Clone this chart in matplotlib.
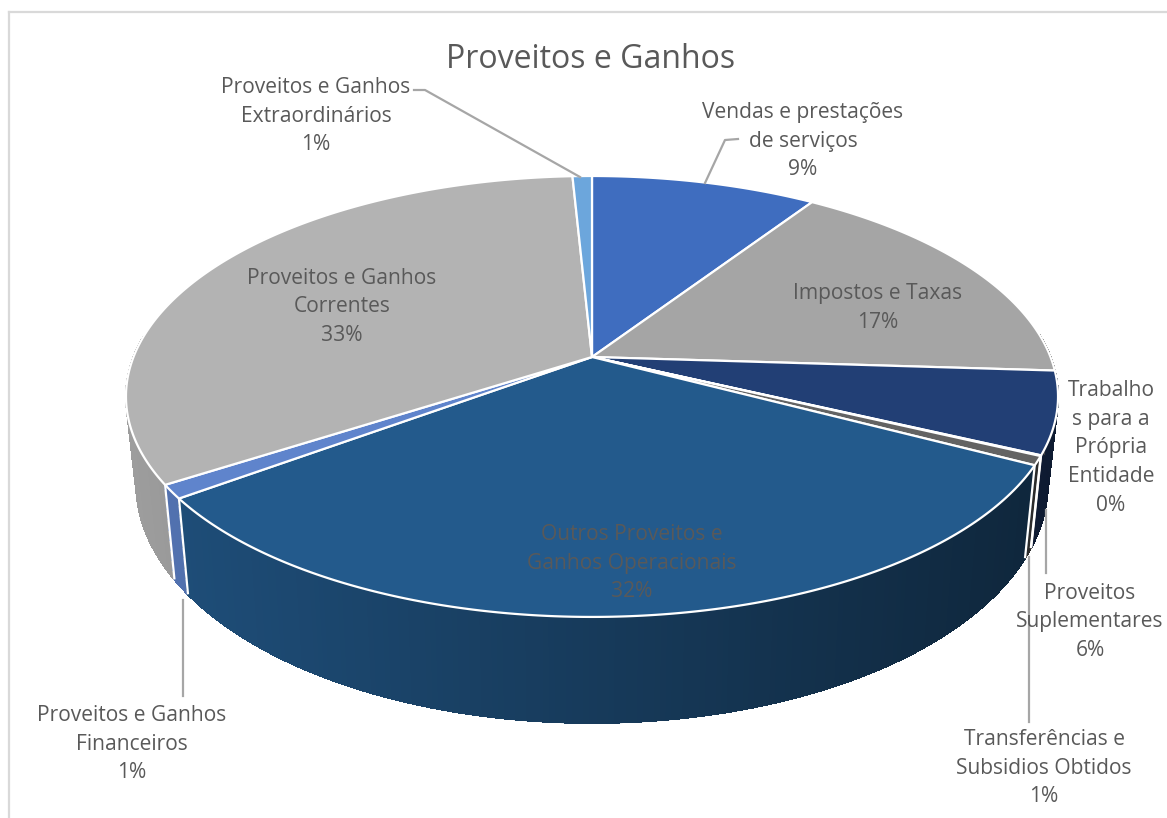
import numpy as np
import matplotlib
matplotlib.use('Agg')
import matplotlib.pyplot as plt

plt.rcParams['font.family'] = ['Open Sans', 'DejaVu Sans']

# ============ DATA ============
labels = ['Vendas e prestações\nde serviços', 'Impostos e Taxas', 'Proveitos\nSuplementares',
          'Trabalho\ns para a\nPrópria\nEntidade', 'Transferências e\nSubsidios Obtidos',
          'Outros Proveitos e\nGanhos Operacionais', 'Proveitos e Ganhos\nFinanceiros',
          'Proveitos e Ganhos\nCorrentes', 'Proveitos e Ganhos\nExtraordinários']
values = [9.3, 16.7, 6.0, 0.05, 0.65, 32.2, 1.0, 33.3, 0.8]
colors = ['#3f6dbf', '#a5a5a5', '#223f75', '#636363', '#636363',
          '#235a8c', '#5f84cc', '#b3b3b3', '#6ca6dc']
label_pos = [(803, 141), (878, 308), (1090, 622), (1111, 448), (1044, 768),
             (632, 563), (132, 744), (342, 307), (316, 116)]

# ============ GEOMETRY (pixels of the reference) ============
CX, CY = 592, 357
A, B, P = 458.5, 213.4, 0.179
X_SCALE, Y_SCALE, DROP = 0.978, 1.086, 83.6


def top_pt(theta):
    x, y = np.sin(theta), np.cos(theta)
    d = 1 + P * y
    return A * x / d, -B * y / d


def rim(theta):
    dx, dy = top_pt(theta)
    return CX + dx, CY + dy


def floor(theta):
    dx, dy = top_pt(theta)
    return CX + X_SCALE * dx, CY + DROP + Y_SCALE * dy


def shade(color, x):
    f = 0.88 - 0.46 * (x - 125) / 933
    return tuple(c * f for c in matplotlib.colors.to_rgb(color))


fig = plt.figure(figsize=(11.67, 8.18), dpi=100)
ax = fig.add_axes([0, 0, 1, 1])
ax.set_xlim(0, 1167)
ax.set_ylim(818, 0)
ax.axis('off')

edges = np.cumsum([0] + values) / 100 * 2 * np.pi

# ============ SIDE WALL ============
quads = []
for i, c in enumerate(colors):
    n = max(2, int(values[i] * 6))
    t = np.linspace(edges[i], edges[i + 1], n + 1)
    for a, b in zip(t[:-1], t[1:]):
        if np.cos(a) > 0.1 and np.cos(b) > 0.1:
            continue
        xa, ya = rim(a)
        xb, yb = rim(b)
        xc, yc = floor(b)
        xd, yd = floor(a)
        quads.append(((ya + yb) / 2, [xa, xb, xc, xd], [ya, yb, yc, yd], shade(c, (xa + xb) / 2)))
for _, xs, ys, col in sorted(quads, key=lambda q: q[0]):
    # no antialias here, otherwise the joins between the strips show up as stripes
    ax.fill(xs, ys, facecolor=col, edgecolor=col, linewidth=0.8, antialiased=False, zorder=2)
    ax.plot(xs[2:], ys[2:], color=col, lw=1.0, zorder=2.5, solid_capstyle='round')

for e in edges[3:8]:
    if np.cos(e) < -0.2:
        xa, ya = rim(e)
        xb, yb = floor(e)
        ax.plot([xa, xb], [ya, yb], color='white', lw=1.6, zorder=3, solid_capstyle='butt')

# ============ TOP FACE ============
for i, c in enumerate(colors):
    t = np.linspace(edges[i], edges[i + 1], max(3, int(values[i] * 8)))
    xs, ys = rim(t)
    ax.fill(np.r_[CX, xs], np.r_[CY, ys], facecolor=c, edgecolor='white', linewidth=1.6,
            joinstyle='round', zorder=4)

# ============ LEADER LINES ============
leaders = [([738, 725, 705], [139, 140, 183]),
           ([414, 425, 580], [90, 90, 177]),
           ([183, 183], [600, 696]),
           ([1029, 1029], [557, 722]),
           ([1046, 1046], [510, 573])]
for xs, ys in leaders:
    ax.plot(xs, ys, color='#a6a6a6', lw=1.6, zorder=5)

# ============ TEXT ============
for name, v, (x, y) in zip(labels, values, label_pos):
    ax.text(x, y, f'{name}\n{round(v)}%', ha='center', va='center', fontsize=15.1,
            color='#595959', linespacing=1.49, zorder=6)
ax.text(591, 59, 'Proveitos e Ganhos', ha='center', va='center', fontsize=23, color='#595959')

# chart frame
ax.plot([9, 9], [12, 818], color='#d9d9d9', lw=1.6)
ax.plot([9, 1167], [12, 12], color='#d9d9d9', lw=1.6)

plt.savefig('out.png', dpi=100)
